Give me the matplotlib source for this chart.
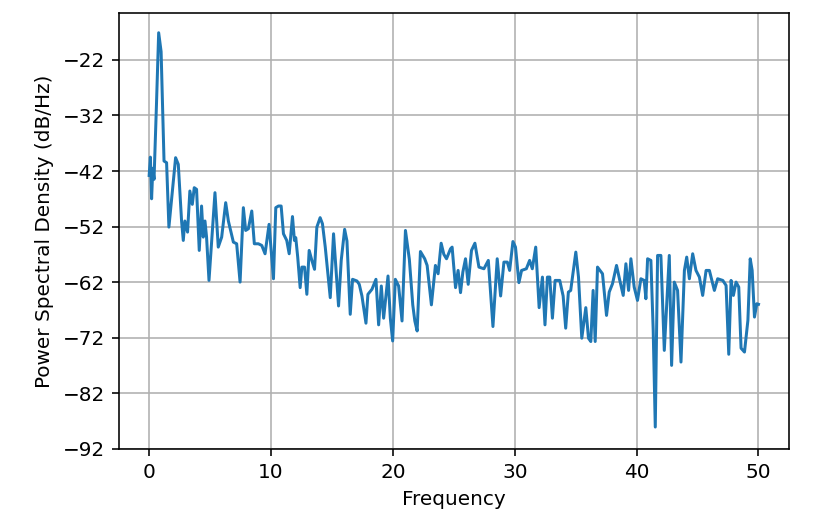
import matplotlib
matplotlib.use("Agg")
import matplotlib.pyplot as plt

# ── Data (vertices of the PSD trace) ──────────────────────────────────────────

freqs = [
    0.00, 0.10, 0.20, 0.30, 0.40, 0.60, 0.78, 0.98, 1.22, 1.43,
    1.62, 2.17, 2.39, 2.66, 2.80, 2.93, 3.15, 3.34, 3.54, 3.70,
    3.89, 4.11, 4.30, 4.44, 4.58, 4.71, 4.91, 5.40, 5.67, 5.95,
    6.28, 6.50, 6.91, 7.18, 7.46, 7.73, 7.92, 8.14, 8.42, 8.63,
    8.96, 9.24, 9.51, 9.84, 10.20, 10.39, 10.61, 10.83, 11.02, 11.29,
    11.49, 11.76, 11.92, 12.03, 12.19, 12.39, 12.53, 12.75, 12.94, 13.13,
    13.35, 13.57, 13.76, 14.03, 14.22, 14.45, 14.86, 15.13, 15.54, 15.76,
    16.04, 16.23, 16.50, 16.69, 17.05, 17.24, 17.46, 17.79, 17.95, 18.28,
    18.61, 18.83, 19.05, 19.24, 19.60, 19.79, 19.98, 20.20, 20.47, 20.75,
    21.03, 21.35, 21.63, 21.80, 21.99, 22.26, 22.61, 22.81, 23.16, 23.49,
    23.71, 23.96, 24.18, 24.40, 24.73, 24.86, 25.14, 25.35, 25.55, 25.74,
    25.96, 26.18, 26.45, 26.73, 27.06, 27.47, 27.83, 28.21, 28.56, 28.84,
    29.11, 29.39, 29.58, 29.85, 30.06, 30.34, 30.56, 30.95, 31.22, 31.44,
    31.72, 32.00, 32.27, 32.48, 32.68, 32.87, 33.09, 33.31, 33.69, 33.97,
    34.18, 34.40, 34.59, 35.01, 35.23, 35.50, 35.83, 36.05, 36.24, 36.43,
    36.60, 36.79, 37.20, 37.53, 37.75, 38.02, 38.35, 38.62, 38.90, 39.12,
    39.34, 39.53, 39.80, 40.07, 40.35, 40.62, 40.76, 40.90, 41.17, 41.36,
    41.53, 41.72, 41.99, 42.27, 42.68, 42.87, 43.09, 43.36, 43.64, 43.92,
    44.11, 44.33, 44.60, 44.87, 45.15, 45.42, 45.70, 45.97, 46.38, 46.65,
    47.07, 47.34, 47.56, 47.75, 47.94, 48.16, 48.38, 48.57, 48.85, 49.13,
    49.32, 49.48, 49.67, 49.86, 50.00,
]

psd_db = [
    -42.8, -39.5, -47.0, -41.5, -43.5, -30.0, -17.1, -20.5, -40.2, -40.5,
    -52.1, -39.6, -40.8, -51.0, -54.5, -51.0, -53.0, -45.6, -48.0, -45.0,
    -45.3, -56.3, -48.3, -53.9, -51.0, -53.9, -61.7, -45.9, -55.7, -53.9,
    -47.7, -51.0, -54.8, -55.1, -62.0, -48.6, -52.7, -52.4, -49.2, -55.1,
    -55.1, -55.4, -56.9, -51.6, -61.4, -48.6, -48.3, -48.3, -53.3, -54.5,
    -56.9, -50.2, -54.5, -54.0, -57.5, -63.0, -59.3, -59.3, -64.2, -56.3,
    -58.1, -59.7, -52.1, -50.4, -51.5, -55.7, -64.8, -53.3, -66.3, -58.1,
    -52.5, -54.6, -67.8, -61.5, -61.8, -62.4, -64.5, -69.4, -64.2, -63.3,
    -61.5, -69.7, -62.7, -68.5, -60.9, -68.5, -72.6, -61.5, -62.7, -69.0,
    -52.7, -57.9, -66.1, -69.0, -70.8, -56.5, -57.8, -59.0, -66.1, -59.0,
    -60.5, -55.0, -57.0, -57.8, -56.0, -55.7, -63.0, -59.9, -63.9, -60.2,
    -57.8, -62.4, -56.3, -55.0, -59.3, -59.6, -58.1, -70.0, -57.8, -64.5,
    -58.4, -58.4, -59.9, -54.7, -55.7, -62.1, -59.9, -59.6, -58.1, -59.6,
    -55.7, -66.6, -61.1, -69.7, -61.1, -61.1, -68.5, -61.7, -61.7, -64.5,
    -70.3, -63.8, -63.5, -56.6, -61.1, -72.1, -66.6, -72.1, -72.7, -63.5,
    -72.7, -59.3, -60.5, -68.0, -63.8, -62.3, -59.0, -61.7, -64.4, -58.7,
    -63.5, -57.8, -62.9, -65.3, -61.4, -61.7, -65.0, -57.8, -58.1, -70.7,
    -88.1, -57.2, -57.2, -74.3, -57.2, -77.0, -62.0, -63.5, -76.4, -59.9,
    -57.5, -61.4, -56.9, -59.9, -61.1, -64.4, -59.9, -59.9, -63.5, -61.4,
    -61.7, -62.6, -75.0, -61.7, -64.4, -62.0, -62.9, -73.9, -74.6, -68.9,
    -57.8, -59.9, -68.3, -65.9, -66.0,
]

yticks = [-92, -82, -72, -62, -52, -42, -32, -22]

# ── Plot ──────────────────────────────────────────────────────────────────────

fig = plt.figure(figsize=(818 / 144, 528 / 144), dpi=144)
ax = fig.add_axes([0.1451, 0.1502, 0.8194, 0.8246])

ax.plot(freqs, psd_db, color="#1f77b4", linewidth=1.5)

ax.set_xlim(-2.5, 52.5)
ax.set_ylim(-92, -13.6)
ax.set_yticks(yticks)
ax.set_xlabel("Frequency")
ax.set_ylabel("Power Spectral Density (dB/Hz)")
ax.grid(True)

fig.savefig("out.png", dpi=144)
